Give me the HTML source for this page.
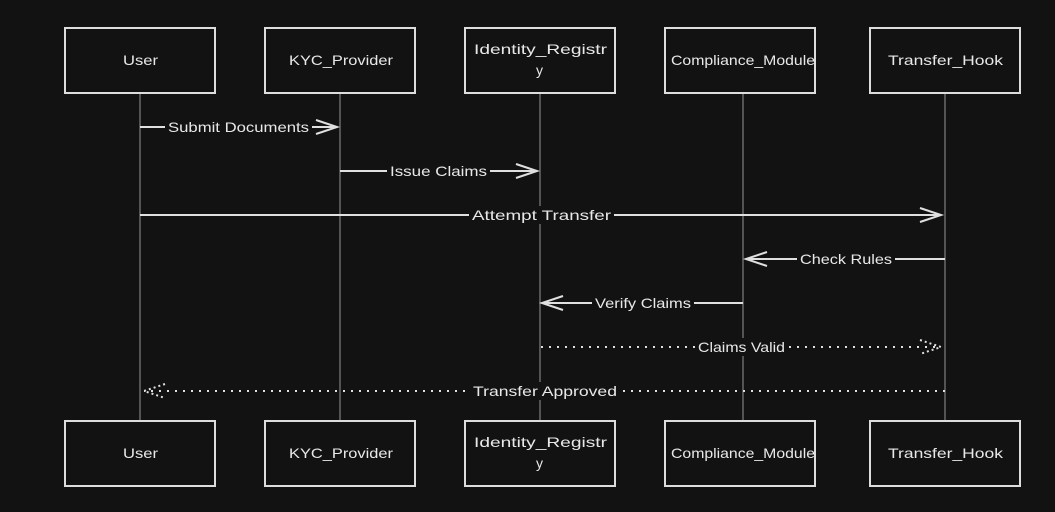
<!DOCTYPE html>
<html><head><meta charset="utf-8"><style>
html,body{margin:0;padding:0;background:#121212;}
svg{display:block}
text{font-family:"Liberation Sans",sans-serif;font-size:14px;fill:#e8e8e8;}
</style></head><body>
<svg width="1055" height="512" viewBox="0 0 1055 512">
<rect width="1055" height="512" fill="#121212"/>
<g stroke="#777" stroke-width="1.3">
<line x1="140" y1="93" x2="140" y2="421"/>
<line x1="340" y1="93" x2="340" y2="421"/>
<line x1="540" y1="93" x2="540" y2="421"/>
<line x1="743" y1="93" x2="743" y2="421"/>
<line x1="945" y1="93" x2="945" y2="421"/>
</g>
<g fill="#121212" stroke="#ddd" stroke-width="2">
<rect x="65" y="28" width="150" height="65"/>
<rect x="265" y="28" width="150" height="65"/>
<rect x="465" y="28" width="150" height="65"/>
<rect x="665" y="28" width="150" height="65"/>
<rect x="870" y="28" width="150" height="65"/>
<rect x="65" y="421" width="150" height="65"/>
<rect x="265" y="421" width="150" height="65"/>
<rect x="465" y="421" width="150" height="65"/>
<rect x="665" y="421" width="150" height="65"/>
<rect x="870" y="421" width="150" height="65"/>
</g>
<g lengthAdjust="spacingAndGlyphs">
<text x="123" y="65" textLength="35" lengthAdjust="spacingAndGlyphs">User</text>
<text x="289" y="65" textLength="104" lengthAdjust="spacingAndGlyphs">KYC_Provider</text>
<text x="474" y="54" textLength="133" lengthAdjust="spacingAndGlyphs">Identity_Registr</text>
<text x="536" y="75">y</text>
<text x="671" y="65" textLength="144" lengthAdjust="spacingAndGlyphs">Compliance_Module</text>
<text x="888" y="65" textLength="115" lengthAdjust="spacingAndGlyphs">Transfer_Hook</text>
<text x="123" y="458" textLength="35" lengthAdjust="spacingAndGlyphs">User</text>
<text x="289" y="458" textLength="104" lengthAdjust="spacingAndGlyphs">KYC_Provider</text>
<text x="474" y="447" textLength="133" lengthAdjust="spacingAndGlyphs">Identity_Registr</text>
<text x="536" y="468">y</text>
<text x="671" y="458" textLength="144" lengthAdjust="spacingAndGlyphs">Compliance_Module</text>
<text x="888" y="458" textLength="115" lengthAdjust="spacingAndGlyphs">Transfer_Hook</text>
</g>
<g stroke="#e0e0e0" stroke-width="2" fill="none">
<line x1="140" y1="127" x2="337" y2="127"/><polyline points="316,120 337,127 316,134"/>
<line x1="340" y1="171" x2="537" y2="171"/><polyline points="516,164 537,171 516,178"/>
<line x1="140" y1="215" x2="941" y2="215"/><polyline points="920,208 941,215 920,222"/>
<line x1="945" y1="259" x2="746" y2="259"/><polyline points="767,252 746,259 767,266"/>
<line x1="743" y1="303" x2="542" y2="303"/><polyline points="563,296 542,303 563,310"/>
<line x1="541" y1="347" x2="941" y2="347" stroke-dasharray="2 6"/><polyline points="920,340 941,347 920,354" stroke-dasharray="2 3"/>
<line x1="945" y1="391" x2="144" y2="391" stroke-dasharray="2 6"/><polyline points="165,384 144,391 165,398" stroke-dasharray="2 3"/>
</g>
<g fill="#121212">
<rect x="165" y="118" width="147" height="18"/>
<rect x="387" y="162" width="103" height="18"/>
<rect x="469" y="206" width="145" height="18"/>
<rect x="797" y="250" width="98" height="18"/>
<rect x="592" y="294" width="102" height="18"/>
<rect x="695" y="338" width="93" height="18"/>
<rect x="470" y="382" width="150" height="18"/>
</g>
<text x="168" y="132" textLength="141" lengthAdjust="spacingAndGlyphs">Submit Documents</text>
<text x="390" y="176" textLength="97" lengthAdjust="spacingAndGlyphs">Issue Claims</text>
<text x="472" y="220" textLength="139" lengthAdjust="spacingAndGlyphs">Attempt Transfer</text>
<text x="800" y="264" textLength="92" lengthAdjust="spacingAndGlyphs">Check Rules</text>
<text x="595" y="308" textLength="96" lengthAdjust="spacingAndGlyphs">Verify Claims</text>
<text x="698" y="352" textLength="87" lengthAdjust="spacingAndGlyphs">Claims Valid</text>
<text x="473" y="396" textLength="144" lengthAdjust="spacingAndGlyphs">Transfer Approved</text>
</svg>
</body></html>
